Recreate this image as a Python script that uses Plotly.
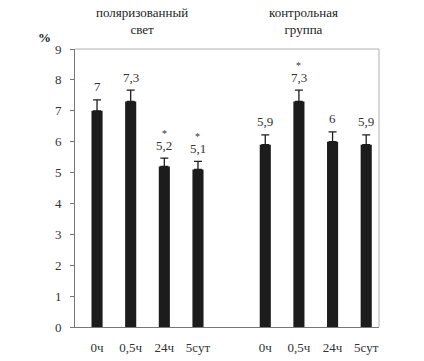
import plotly.graph_objects as go

categories = ["0ч", "0,5ч", "24ч", "5сут"]
group_titles = ["поляризованный<br>свет", "контрольная<br>группа"]
polarized = [7.0, 7.3, 5.2, 5.1]
polarized_err = [0.35, 0.37, 0.27, 0.26]
polarized_sig = [False, False, True, True]
control = [5.9, 7.3, 6.0, 5.9]
control_err = [0.32, 0.37, 0.32, 0.32]
control_sig = [False, True, False, False]
y_ticks = [0, 1, 2, 3, 4, 5, 6, 7, 8, 9]

def fmt(v):
    return ("%g" % v).replace(".", ",")

x1 = [i + 1 for i in range(len(categories))]
x2 = [i + 6 for i in range(len(categories))]

FONT = "Liberation Serif"
BAR = "#1c1c1c"

fig = go.Figure()
for xs, vals, errs in [(x1, polarized, polarized_err), (x2, control, control_err)]:
    fig.add_trace(go.Bar(
        x=xs, y=vals, width=0.33, marker=dict(color=BAR, line=dict(width=0)),
        error_y=dict(type="data", array=errs, arrayminus=[0] * len(errs), symmetric=False,
                     color=BAR, thickness=1.3, width=4),
        showlegend=False, hoverinfo="skip"))

annotations = []
for xs, vals, errs, sigs in [(x1, polarized, polarized_err, polarized_sig),
                             (x2, control, control_err, control_sig)]:
    for x, v, e, s in zip(xs, vals, errs, sigs):
        annotations.append(dict(x=x, y=v + e, text=fmt(v), showarrow=False,
                                xanchor="center", yanchor="middle", yshift=13,
                                font=dict(family=FONT, size=13, color="#333")))
        if s:
            annotations.append(dict(x=x, y=v + e, text="*", showarrow=False,
                                    xanchor="center", yanchor="middle", yshift=25,
                                    font=dict(family=FONT, size=10, color="#333")))

annotations.append(dict(xref="paper", yref="paper", x=0.22, y=1.1025, text=group_titles[0],
                        xanchor="center", yanchor="middle", showarrow=False,
                        font=dict(family=FONT, size=13, color="#222")))
annotations.append(dict(xref="paper", yref="paper", x=0.751, y=1.1025, text=group_titles[1],
                        xanchor="center", yanchor="middle", showarrow=False,
                        font=dict(family=FONT, size=13, color="#222")))
annotations.append(dict(xref="paper", yref="paper", x=-0.099, y=1.043, text="<b>%</b>",
                        xanchor="center", yanchor="middle", showarrow=False,
                        font=dict(family=FONT, size=13, color="#222")))

fig.update_layout(
    width=424, height=361,
    margin=dict(l=75, r=45, t=49, b=34, autoexpand=False),
    font=dict(family=FONT, size=13, color="#333"),
    paper_bgcolor="white", plot_bgcolor="white",
    annotations=annotations,
    shapes=[
        dict(type="line", xref="paper", yref="paper", x0=0, x1=1, y0=1, y1=1,
             line=dict(color="#b0b0b0", width=1)),
        dict(type="line", xref="paper", yref="paper", x0=1, x1=1, y0=0, y1=1,
             line=dict(color="#b0b0b0", width=1)),
    ],
    xaxis=dict(range=[0.345, 9.38], tickvals=x1 + x2, ticktext=categories + categories,
               showgrid=False, zeroline=False, showline=True, linecolor="#777", linewidth=1,
               ticks="", ticklabelstandoff=8, automargin=False,
               tickfont=dict(family=FONT, size=13, color="#333")),
    yaxis=dict(range=[0, 9], tickvals=y_ticks, showgrid=False, zeroline=False,
               showline=True, linecolor="#777", linewidth=1, ticks="outside", ticklen=4,
               tickcolor="#777", ticklabelstandoff=6, automargin=False,
               tickfont=dict(family=FONT, size=13, color="#333")),
)

fig.write_html("out.html", config={"displayModeBar": False},
               post_script="document.body.style.margin='0';document.body.style.overflow='hidden';")
